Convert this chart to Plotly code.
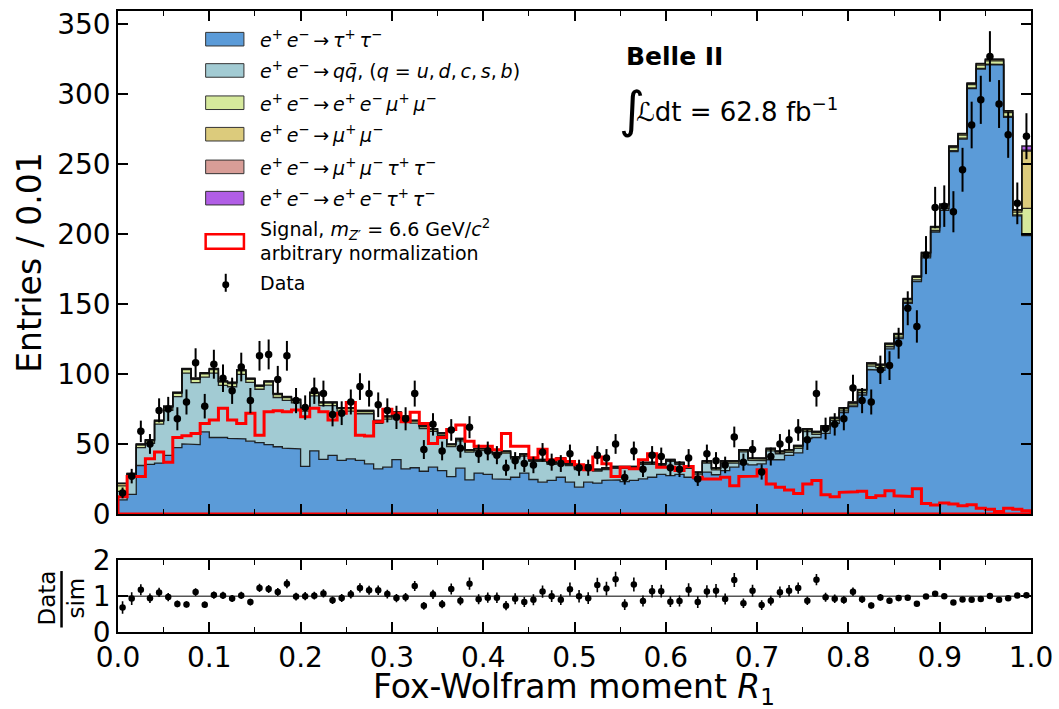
import numpy as np
import plotly.graph_objects as go

# ---------------- binning: 100 bins of width 0.01 in R1 ----------------
bin_edges = np.linspace(0.0, 1.0, 101)
bin_centers = 0.5 * (bin_edges[:-1] + bin_edges[1:])

# ---------------- simulated components (entries per bin) ----------------
tau = [10.0, 14.0, 34.6, 35.4, 36.3, 41.8, 47.4, 50.0, 49.5, 58.7,
       54.6, 54.6, 54.0, 53.6, 52.0, 51.0, 49.5, 48.0, 47.0, 46.5,
       34.0, 45.0, 39.0, 41.8, 38.2, 39.4, 38.2, 35.8, 32.2, 33.4,
       38.8, 32.2, 33.0, 30.5, 33.4, 31.0, 26.7, 32.7, 24.3, 29.2,
       28.2, 25.1, 24.6, 26.2, 29.2, 24.6, 22.7, 23.9, 26.2, 22.7,
       19.1, 22.7, 22.0, 23.9, 24.3, 23.1, 23.9, 25.1, 26.2, 28.2,
       27.4, 28.2, 26.2, 25.0, 29.9, 28.0, 31.0, 33.4, 35.8, 35.0,
       35.8, 38.7, 38.7, 41.9, 43.6, 53.9, 54.6, 57.5, 64.7, 72.4,
       76.7, 85.0, 103.2, 102.7, 118.0, 125.3, 150.5, 166.0, 183.0, 201.5,
       217.0, 259.0, 268.0, 304.0, 318.0, 321.0, 321.0, 283.5, 213.0, 199.0]

qqbar = [6.1, 12.7, 12.8, 15.0, 27.9, 32.2, 36.4, 50.7, 44.3, 39.1,
         46.1, 37.3, 36.9, 46.2, 42.0, 38.1, 42.5, 35.2, 34.2, 32.8,
         39.4, 39.3, 38.4, 35.6, 35.3, 34.1, 33.4, 35.8, 32.5, 34.3,
         32.0, 35.7, 31.9, 30.5, 25.6, 25.1, 21.4, 19.5, 19.9, 16.1,
         17.1, 17.2, 18.8, 13.2, 12.2, 12.9, 14.8, 11.6, 12.3, 11.8,
         12.5, 10.9, 8.6, 7.7, 8.3, 9.5, 8.7, 10.5, 9.3, 6.3,
         10.1, 7.3, 6.3, 3.5, 6.5, 3.4, 5.4, 2.9, 8.5, 3.3,
         2.3, 6.3, 4.3, 2.1, 3.3, 5.0, 2.3, 3.3, 2.1, 1.3,
         1.0, 1.6, 2.4, 1.8, 1.5, 1.1, 0.8, 1.3, 1.2, 1.1,
         1.3, 0.7, 0.6, 0.6, 0.5, 0.5, 0.4, 0.7, 0.7, 0.4]

eemumu = [4.0, 1.5, 1.8, 1.8, 2.0, 2.2, 2.4, 2.5, 2.4, 2.4,
          2.5, 2.3, 2.3, 2.4, 2.2, 2.1, 2.2, 2.0, 2.0, 1.9,
          1.8, 1.9, 1.8, 1.8, 1.7, 1.7, 1.6, 1.6, 1.5, 1.5,
          1.5, 1.4, 1.4, 1.3, 1.3, 1.2, 1.2, 1.1, 1.1, 1.0,
          1.0, 1.0, 0.9, 0.9, 0.9, 0.8, 0.8, 0.8, 0.8, 0.8,
          0.7, 0.7, 0.7, 0.7, 0.7, 0.7, 0.7, 0.7, 0.8, 0.8,
          0.8, 0.8, 0.8, 0.8, 0.9, 0.9, 0.9, 1.0, 1.0, 1.0,
          1.0, 1.1, 1.1, 1.1, 1.2, 1.2, 1.2, 1.3, 1.3, 1.4,
          1.4, 1.5, 1.5, 1.6, 1.6, 1.7, 1.8, 1.8, 1.9, 2.0,
          2.0, 2.1, 2.2, 2.2, 2.3, 2.3, 2.4, 2.6, 2.0, 19.0]

mumu = [1.5, 0.5, 0.5, 0.6, 0.5, 0.6, 0.5, 0.5, 0.6, 0.5,
        0.5, 0.5, 0.6, 0.5, 0.5, 0.5, 0.5, 0.6, 0.5, 0.5,
        0.5, 0.5, 0.5, 0.5, 0.4, 0.5, 0.5, 0.5, 0.4, 0.5,
        0.4, 0.4, 0.4, 0.4, 0.4, 0.4, 0.4, 0.4, 0.4, 0.4,
        0.4, 0.4, 0.4, 0.4, 0.4, 0.4, 0.4, 0.4, 0.4, 0.4,
        0.4, 0.4, 0.4, 0.4, 0.4, 0.4, 0.4, 0.4, 0.4, 0.4,
        0.4, 0.4, 0.4, 0.4, 0.4, 0.4, 0.4, 0.4, 0.4, 0.4,
        0.6, 0.6, 0.6, 0.6, 0.6, 0.6, 0.6, 0.6, 0.6, 0.6,
        0.6, 0.6, 0.6, 0.6, 0.6, 0.6, 0.6, 0.6, 0.6, 0.6,
        0.9, 0.9, 0.9, 0.9, 0.9, 1.0, 1.0, 1.2, 1.5, 41.0]

mumutautau = [0.2, 0.2, 0.2, 0.2, 0.2, 0.2, 0.2, 0.2, 0.2, 0.2,
              0.2, 0.2, 0.2, 0.2, 0.2, 0.2, 0.2, 0.2, 0.2, 0.2,
              0.2, 0.2, 0.2, 0.2, 0.2, 0.2, 0.2, 0.2, 0.2, 0.2,
              0.2, 0.2, 0.2, 0.2, 0.2, 0.2, 0.2, 0.2, 0.2, 0.2,
              0.2, 0.2, 0.2, 0.2, 0.2, 0.2, 0.2, 0.2, 0.2, 0.2,
              0.2, 0.2, 0.2, 0.2, 0.2, 0.2, 0.2, 0.2, 0.2, 0.2,
              0.2, 0.2, 0.2, 0.2, 0.2, 0.2, 0.2, 0.2, 0.2, 0.2,
              0.2, 0.2, 0.2, 0.2, 0.2, 0.2, 0.2, 0.2, 0.2, 0.2,
              0.2, 0.2, 0.2, 0.2, 0.2, 0.2, 0.2, 0.2, 0.2, 0.2,
              0.2, 0.2, 0.2, 0.2, 0.2, 0.2, 0.2, 0.2, 0.2, 0.6]

eetautau = [0.2, 0.1, 0.1, 0.1, 0.1, 0.1, 0.1, 0.1, 0.1, 0.1,
            0.1, 0.1, 0.1, 0.1, 0.1, 0.1, 0.1, 0.1, 0.1, 0.1,
            0.1, 0.1, 0.1, 0.1, 0.1, 0.1, 0.1, 0.1, 0.1, 0.1,
            0.1, 0.1, 0.1, 0.1, 0.1, 0.1, 0.1, 0.1, 0.1, 0.1,
            0.1, 0.1, 0.1, 0.1, 0.1, 0.1, 0.1, 0.1, 0.1, 0.1,
            0.1, 0.1, 0.1, 0.1, 0.1, 0.1, 0.1, 0.1, 0.1, 0.1,
            0.1, 0.1, 0.1, 0.1, 0.1, 0.1, 0.1, 0.1, 0.1, 0.1,
            0.1, 0.1, 0.1, 0.1, 0.1, 0.1, 0.1, 0.1, 0.1, 0.1,
            0.1, 0.1, 0.1, 0.1, 0.1, 0.1, 0.1, 0.1, 0.1, 0.1,
            0.1, 0.1, 0.1, 0.1, 0.1, 0.1, 0.1, 0.1, 0.1, 3.0]

# signal shape, Z' with m = 6.6 GeV/c^2 (arbitrary normalization)
signal = [12.3, 26.7, 26.7, 39.4, 44.2, 37.0, 54.6, 55.8, 57.5, 64.7,
          67.1, 75.5, 67.1, 64.7, 72.0, 56.3, 73.0, 73.8, 73.1, 74.3,
          69.5, 75.5, 73.1, 67.1, 71.9, 79.6, 56.3, 55.6, 65.9, 74.8,
          71.9, 65.9, 72.6, 64.7, 50.4, 54.6, 60.4, 63.5, 51.9, 48.3,
          48.3, 45.9, 57.5, 48.3, 48.3, 40.2, 46.2, 38.7, 39.4, 37.5,
          35.1, 31.5, 40.6, 35.8, 26.7, 33.4, 32.2, 38.7, 43.0, 33.4,
          33.4, 31.0, 33.9, 26.2, 25.0, 25.0, 26.2, 20.2, 26.7, 27.0,
          31.5, 21.4, 19.0, 17.0, 14.6, 21.4, 23.8, 13.7, 12.2, 15.4,
          15.8, 16.1, 11.8, 13.0, 16.6, 13.0, 12.5, 18.0, 7.5, 6.3,
          7.7, 7.0, 5.8, 6.5, 4.1, 3.4, 1.7, 4.1, 3.4, 2.2]

# observed events per bin
data = [15, 27, 59, 50, 74, 75, 68, 80, 108, 77,
        107, 97, 88, 105, 81, 113, 114, 96, 113, 81,
        76, 88, 86, 71, 72, 80, 91, 86, 78, 74,
        69, 68, 86, 46, 64, 45, 60, 47, 62, 43,
        45, 42, 33, 38, 36, 35, 44, 37, 36, 43,
        33, 33, 42, 40, 50, 26, 45, 32, 42, 41,
        33, 32, 40, 25, 43, 38, 35, 55, 37, 46,
        30, 41, 50, 53, 60, 53, 86, 61, 64, 68,
        90, 81, 80, 103, 106, 122, 147, 134, 185, 219,
        220, 216, 246, 278, 296, 327, 293, 271, 222, 270]

# ---------------- legend labels and colours ----------------
THIN = "\u2009"


def particle(sym, charge):
    # italic symbol with a charge superscript, followed by a thin gap
    return f"<i>{sym}</i><sup>{charge}</sup>{THIN}"


EP_EM = particle("e", "+") + particle("e", "−") + "→" + THIN
labels = [
    EP_EM + particle("τ", "+") + particle("τ", "−"),
    EP_EM + "<i>q</i><i>q\u0304</i>, (<i>q</i> = <i>u</i>," + THIN + "<i>d</i>," + THIN
    + "<i>c</i>," + THIN + "<i>s</i>," + THIN + "<i>b</i>)",
    EP_EM + particle("e", "+") + particle("e", "−") + particle("μ", "+") + particle("μ", "−"),
    EP_EM + particle("μ", "+") + particle("μ", "−"),
    EP_EM + particle("μ", "+") + particle("μ", "−") + particle("τ", "+") + particle("τ", "−"),
    EP_EM + particle("e", "+") + particle("e", "−") + particle("τ", "+") + particle("τ", "−"),
]
colors = ["#5b9bd8", "#a2cbd3", "#d6e99c", "#dccb7c", "#d89d97", "#b15ee6"]
components = [tau, qqbar, eemumu, mumu, mumutautau, eetautau]

EDGE = "rgba(15,15,15,0.9)"
FONT = "DejaVu Sans"

# ---------------- page geometry (pixels) ----------------
W, H = 1059, 709
ML, MR, MT, MB = 118, 27.5, 11, 76.5


def px(xp):
    return (xp - ML) / (W - ML - MR)


def py(yp):
    return (H - MB - yp) / (H - MT - MB)


def steps(vals):
    v = np.asarray(vals, dtype=float)
    return np.repeat(bin_edges, 2)[1:-1], np.repeat(v, 2)


fig = go.Figure()

# stacked simulation
cum = np.zeros(len(bin_centers))
for i, (vals, col) in enumerate(zip(components, colors)):
    cum = cum + np.asarray(vals, dtype=float)
    sx, sy = steps(cum)
    fig.add_trace(go.Scatter(
        x=sx, y=sy, mode="lines",
        line=dict(color=EDGE, width=1.3),
        fill="tozeroy" if i == 0 else "tonexty",
        fillcolor=col, hoverinfo="skip", showlegend=False,
        xaxis="x", yaxis="y"))
total = cum

# signal outline (closed step polygon)
sx, sy = steps(signal)
fig.add_trace(go.Scatter(
    x=np.concatenate([[0.0], sx, [1.0, 0.0]]),
    y=np.concatenate([[0.0], sy, [0.0, 0.0]]),
    mode="lines", line=dict(color="#ff0000", width=3),
    hoverinfo="skip", showlegend=False, xaxis="x", yaxis="y"))

# data points
data_arr = np.asarray(data, dtype=float)
data_err = np.sqrt(data_arr)
fig.add_trace(go.Scatter(
    x=bin_centers, y=data_arr, mode="markers",
    marker=dict(color="black", size=7.5),
    error_y=dict(type="data", array=data_err, color="black", thickness=2, width=0),
    showlegend=False, xaxis="x", yaxis="y"))

# ratio panel
ratio = data_arr / total
ratio_err = data_err / total
fig.add_trace(go.Scatter(
    x=bin_centers, y=ratio, mode="markers",
    marker=dict(color="black", size=6.5),
    error_y=dict(type="data", array=ratio_err, color="black", thickness=1.6, width=0),
    showlegend=False, xaxis="x2", yaxis="y2"))

axis_common = dict(showline=True, linecolor="black", linewidth=1.5, mirror="allticks",
                   ticks="inside", tickcolor="black", tickwidth=1.5, ticklen=10,
                   showgrid=False, zeroline=False, automargin=False,
                   tickfont=dict(family=FONT, size=28, color="black"))
minor_x = dict(ticks="inside", dtick=0.05, tick0=0, ticklen=5, tickwidth=1.2,
               tickcolor="black", showgrid=False)

main_bottom = py(514.3)
ratio_top = py(560.7)

fig.update_layout(
    width=W, height=H,
    margin=dict(l=ML, r=MR, t=MT, b=MB, autoexpand=False),
    plot_bgcolor="white", paper_bgcolor="white",
    font=dict(family=FONT, color="black"),
    showlegend=False,
    xaxis=dict(domain=[0, 1], anchor="y", range=[0, 1], dtick=0.1, tick0=0,
               showticklabels=False, minor=minor_x, **axis_common),
    yaxis=dict(domain=[main_bottom, 1], anchor="x", range=[0, 359.5], dtick=50,
               tick0=0, **axis_common),
    xaxis2=dict(domain=[0, 1], anchor="y2", range=[0, 1], dtick=0.1, tick0=0,
                tickformat=".1f", minor=minor_x, **axis_common),
    yaxis2=dict(domain=[0, ratio_top], anchor="x2", range=[0, 2],
                tickvals=[0, 1, 2], **axis_common),
)

shapes = []
annotations = []

# reference line at ratio = 1
shapes.append(dict(type="line", xref="x2", yref="y2", x0=0, x1=1, y0=1, y1=1,
                   line=dict(color="#555555", width=1.5), layer="below"))

# legend: filled boxes for the simulated components
box_x0, box_x1 = 205.7, 244.0
entry_y = [39.2, 70.5, 102.8, 134.3, 167.0, 198.3]
for cy, col, lab in zip(entry_y, colors, labels):
    shapes.append(dict(type="rect", xref="paper", yref="paper",
                       x0=px(box_x0), x1=px(box_x1), y0=py(cy + 6.8), y1=py(cy - 6.8),
                       fillcolor=col, line=dict(color="#333333", width=1)))
    annotations.append(dict(xref="paper", yref="paper", x=px(258), y=py(cy),
                            xanchor="left", yanchor="middle", showarrow=False,
                            text=lab, font=dict(family=FONT, size=19, color="black")))

# legend: signal outline box
shapes.append(dict(type="rect", xref="paper", yref="paper",
                   x0=px(box_x0), x1=px(box_x1), y0=py(249.0), y1=py(234.5),
                   fillcolor="white", line=dict(color="#ff0000", width=2.5)))
annotations.append(dict(xref="paper", yref="paper", x=px(258), y=py(229.5),
                        xanchor="left", yanchor="middle", showarrow=False,
                        text="Signal, <i>m</i><sub><i>Z</i>′</sub> = 6.6 GeV/<i>c</i><sup>2</sup>",
                        font=dict(family=FONT, size=19, color="black")))
annotations.append(dict(xref="paper", yref="paper", x=px(258), y=py(253.5),
                        xanchor="left", yanchor="middle", showarrow=False,
                        text="arbitrary normalization",
                        font=dict(family=FONT, size=19, color="black")))

# legend: data marker
shapes.append(dict(type="line", xref="paper", yref="paper",
                   x0=px(225.8), x1=px(225.8), y0=py(292), y1=py(274),
                   line=dict(color="black", width=2)))
shapes.append(dict(type="circle", xref="paper", yref="paper",
                   x0=px(222.3), x1=px(229.3), y0=py(288.5), y1=py(281.5),
                   fillcolor="black", line=dict(color="black", width=0)))
annotations.append(dict(xref="paper", yref="paper", x=px(258), y=py(283.5),
                        xanchor="left", yanchor="middle", showarrow=False,
                        text="Data", font=dict(family=FONT, size=19, color="black")))

# experiment label and luminosity
annotations.append(dict(xref="paper", yref="paper", x=px(624), y=py(57),
                        xanchor="left", yanchor="middle", showarrow=False,
                        text="<b>Belle II</b>", font=dict(family=FONT, size=25, color="black")))
annotations.append(dict(xref="paper", yref="paper", x=px(617), y=py(110),
                        xanchor="left", yanchor="middle", showarrow=False,
                        text="∫", font=dict(family=FONT, size=50, color="black")))
annotations.append(dict(xref="paper", yref="paper", x=px(634), y=py(110),
                        xanchor="left", yanchor="middle", showarrow=False,
                        text="ℒdt = 62.8 fb<sup>−1</sup>",
                        font=dict(family=FONT, size=26, color="black")))

# axis titles
annotations.append(dict(xref="paper", yref="paper", x=px(30), y=py(263),
                        xanchor="center", yanchor="middle", showarrow=False,
                        textangle=-90, text="Entries / 0.01",
                        font=dict(family=FONT, size=33, color="black")))
annotations.append(dict(xref="paper", yref="paper", x=px(574), y=py(689),
                        xanchor="center", yanchor="middle", showarrow=False,
                        text="Fox-Wolfram moment <i>R</i><sub>1</sub>",
                        font=dict(family=FONT, size=33, color="black")))
# ratio axis title as a stacked fraction
annotations.append(dict(xref="paper", yref="paper", x=px(46), y=py(599),
                        xanchor="center", yanchor="middle", showarrow=False,
                        textangle=-90, text="Data",
                        font=dict(family=FONT, size=23, color="black")))
annotations.append(dict(xref="paper", yref="paper", x=px(76), y=py(599),
                        xanchor="center", yanchor="middle", showarrow=False,
                        textangle=-90, text="sim",
                        font=dict(family=FONT, size=23, color="black")))
shapes.append(dict(type="line", xref="paper", yref="paper",
                   x0=px(61.5), x1=px(61.5), y0=py(628), y1=py(571.5),
                   line=dict(color="black", width=2.5)))

fig.update_layout(shapes=shapes, annotations=annotations)

fig.write_html("out.html")
